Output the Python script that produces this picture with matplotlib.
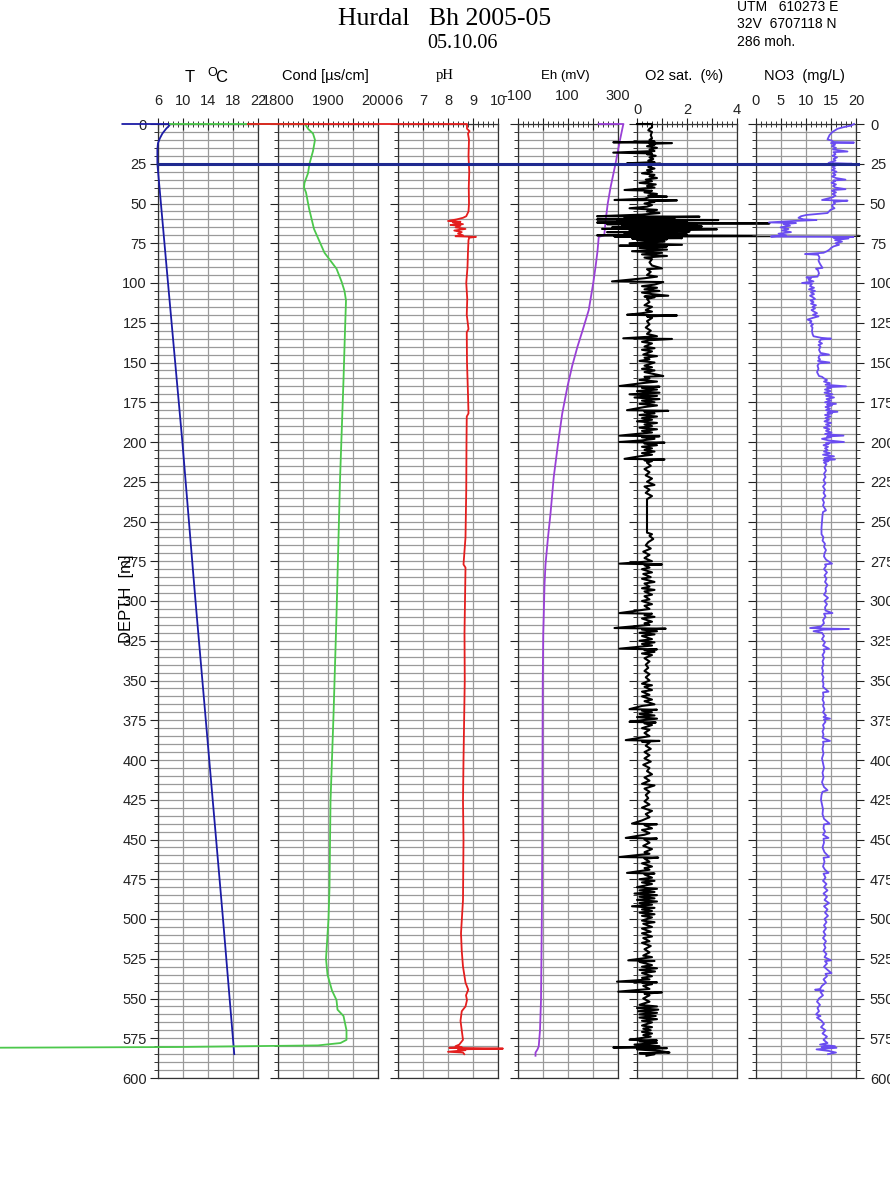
import matplotlib
matplotlib.use('Agg')
import matplotlib.pyplot as plt
import matplotlib.ticker as mticker
import matplotlib.transforms as mtransforms
from matplotlib.lines import Line2D

plt.rcParams['font.family'] = ['Liberation Sans', 'DejaVu Sans']

# ==================== data (depth m, value) ====================
water_level = 25

temp_profile = [(0, 0.3), (0, 7.9), (1, 7.8), (3, 7.3), (6, 6.7), (9, 6.3), (12, 6.0),
                (16, 5.9), (25, 5.9), (100, 7.6), (200, 9.9), (300, 12.0), (400, 14.2),
                (500, 16.4), (585, 18.2)]

cond_profile = [(0, 1584), (0, 1854), (3, 1860), (6, 1870), (10, 1874), (17, 1870), (25, 1863),
                (31, 1860), (37, 1853), (40, 1852), (43, 1856), (53, 1862), (66, 1872),
                (81, 1893), (91, 1917), (99, 1927), (105, 1933), (111, 1936), (130, 1934),
                (161, 1931), (224, 1924), (309, 1917), (372, 1911), (426, 1905), (480, 1903),
                (500, 1901), (515, 1898), (525, 1896), (535, 1899), (545, 1908), (551, 1917),
                (557, 1919), (561, 1931), (570, 1937), (576, 1937), (578, 1925), (579.5, 1880),
                (580.5, 1600), (581, 1200)]

ph_profile = [(0, 0.0), (0, 8.76), (3, 8.76), (4.5, 8.86), (6, 8.8), (10, 8.84), (20, 8.82),
              (30, 8.85), (40, 8.83), (50, 8.84), (55, 8.82), (58, 8.73), (59, 8.6), (60, 8.35),
              (61, 8.0), (61.5, 8.5), (62, 8.2), (63, 8.6), (63.5, 8.1), (64, 8.5), (65, 8.3),
              (66, 8.7), (67, 8.25), (68, 8.55), (69, 8.4), (70, 8.6), (70.6, 8.3), (71, 9.12),
              (71.5, 8.85), (73, 8.82), (80, 8.8), (90, 8.78), (100, 8.73), (110, 8.77),
              (120, 8.75), (129, 8.82), (131, 8.75), (150, 8.76), (160, 8.78), (170, 8.8),
              (182, 8.82), (184, 8.75), (200, 8.74), (230, 8.73), (260, 8.7), (277, 8.62),
              (279, 8.7), (300, 8.68), (320, 8.66), (350, 8.67), (380, 8.64), (400, 8.62),
              (426, 8.6), (450, 8.62), (488, 8.6), (509, 8.52), (520, 8.55), (530, 8.6),
              (540, 8.7), (544.5, 8.81), (548, 8.72), (551, 8.76), (555, 8.7), (558, 8.55),
              (564, 8.5), (570, 8.55), (576, 8.6), (579, 8.45), (580, 8.3), (580.5, 8.55),
              (581, 8.05), (581.5, 10.2), (582, 8.4), (582.5, 8.7), (583.5, 8.0), (584, 8.6),
              (585, 8.65)]

eh_profile = [(0, 224), (0, 324), (1, 322), (10, 310), (25, 292), (40, 272), (50, 261),
              (60, 253), (70, 247), (71, 225), (80, 220), (90, 212), (100, 203), (117, 185),
              (130, 160), (140, 140), (152, 119), (165, 100), (182, 79), (200, 63), (222, 45),
              (245, 32), (260, 22), (277, 12), (290, 8), (309, 5), (320, 3), (350, 1),
              (400, 0), (450, -1), (488, -2), (520, -4), (551, -6), (570, -10), (580, -15),
              (582, -20), (584, -28), (586, -28)]

o2_profile = [
    (0, 0.0), (0, 0.6), (2, 0.6), (3, 0.5), (4, 0.45), (5, 0.6), (7, 0.55), (9, 0.6),
    (10, 0.5), (11, 0.7), (11.5, -0.95), (12, 1.4), (12.5, 0.5), (13, 0.7), (14, 0.4),
    (15, 0.8), (16, 0.5), (17, 0.7), (18, -0.95), (18.5, 0.6), (19, 0.4), (20, 0.75),
    (21, 0.5), (22, 0.65), (23, 0.45), (24, 0.7), (24.7, -0.4), (25, 0.95), (25.5, 0.3),
    (26, 0.6), (27, 0.45), (28, 0.7), (29, 0.4), (30, 0.6), (31, 0.2), (32, 0.7), (33, 0.5),
    (34, 0.8), (35, 0.35), (36, 0.6), (37, 0.1), (38, 0.75), (39, 0.4), (40, 0.7),
    (41.5, -0.5), (42, 0.6), (43, 0.3), (44, 0.8), (45, 0.45), (45.7, 1.2), (46, 0.5),
    (47, 0.3), (47.8, -0.9), (48, 1.6), (48.5, 0.5), (49, 0.7), (50, 0.3), (51, 0.6),
    (52, 0.4), (53, -0.3), (54, 0.8), (55, 0.4), (56, 0.9), (57, 0.2), (58, -1.6),
    (58.3, 2.5), (59, -0.5), (59.5, 1.5), (60, -1.6), (60.4, 3.25), (61, -0.8), (61.5, 2.0),
    (62, -1.6), (62.5, 5.3), (63, -1.2), (63.5, 2.4), (64, -0.6), (64.5, 2.6), (65, -1.0),
    (65.5, 1.9), (66, -1.4), (66.2, 3.2), (67, -0.3), (67.6, 2.1), (68, -1.2), (68.5, 1.6),
    (69, -0.5), (69.5, 2.0), (70, -1.6), (70.4, 8.9), (70.8, -0.9), (71.3, 1.5), (71.8, 1.8),
    (72, -0.2), (72.5, 1.2), (73, 0.0), (74, 1.1), (75, -0.3), (76, 1.8), (76.5, -0.7),
    (77, 1.2), (78, 0.1), (79, 1.2), (80, -0.2), (81, 1.0), (82, 0.2), (83, 1.2), (84, 0.3),
    (85, 0.6), (87, 0.5), (89, 0.6), (90.8, 1.0), (91.3, 0.4), (93, 0.55), (95, 0.4),
    (96, 0.8), (97, 0.3), (99, -1.0), (99.4, 1.05), (101, 0.7), (102, 0.2), (103, 0.8),
    (104, 0.3), (105, 0.9), (106, 0.2), (107, 0.6), (108, 1.25), (108.5, 0.3), (109, 0.7),
    (110, 0.4), (112, 0.5), (114, 0.3), (115, 0.6), (117, 0.35), (118, 0.6), (119, 0.2),
    (120, -0.4), (120.4, 1.6), (121, 0.4), (122, 0.6), (124, 0.4), (126, 0.5), (128, 0.35),
    (130, 0.55), (132, 0.4), (133.5, 0.8), (134.8, -0.55), (135.2, 1.4), (136, 0.5),
    (137, 0.2), (138, 0.6), (140, 0.3), (141, 0.7), (142, 0.2), (143, 0.6), (145, 0.25),
    (146, 0.8), (147, 0.3), (148, 0.5), (149, 0.1), (150, 0.7), (152, 0.3), (153, 0.6),
    (154, 0.2), (155, 0.7), (156, 0.3), (157, 0.6), (158.5, 1.05), (159, 0.3), (160, 0.5),
    (161, 0.1), (162, 0.8), (163, 0.2), (164.8, -0.7), (165.2, 0.9), (166, 0.2), (167, 0.8),
    (168, 0.0), (169, 0.9), (170, -0.3), (171, 0.8), (172, -0.1), (173, 0.9), (174, 0.2),
    (175, 0.7), (176, 0.1), (177, 0.8), (178, 0.3), (180, -0.4), (180.4, 1.25), (181, 0.3),
    (182, 0.7), (183, 0.1), (184, 0.8), (185, 0.2), (186, 0.6), (187, 0.0), (188, 0.8),
    (189, 0.3), (190, 0.6), (191, 0.1), (192, 0.8), (193, 0.2), (194, 0.6), (196, -0.7),
    (196.4, 0.9), (197, 0.2), (198, 0.7), (199, 0.2), (200, -0.7), (200.4, 1.1), (201, 0.3),
    (202, 0.8), (203, 0.2), (204, 0.6), (205, 0.3), (206, 0.7), (207, 0.2), (208, 0.6),
    (209, 0.1), (210.6, -0.5), (211, 1.1), (211.5, 0.3), (212, 0.6), (213, 0.4), (215, 0.55),
    (217, 0.3), (219, 0.5), (221, 0.35), (223, 0.6), (225, 0.4), (227, 0.7), (228, 0.3),
    (230, 0.5), (232, 0.35), (234, 0.6), (236, 0.4), (257, 0.4), (258, 0.6), (259, 0.5),
    (261, 0.65), (263, 0.45), (265, 0.35), (267, 0.55), (269, 0.25), (271, 0.5), (273, 0.3),
    (275, 0.6), (276.5, -0.7), (277, 1.0), (277.5, 0.3), (279, 0.5), (280, 0.2), (282, 0.6),
    (283, 0.25), (285, 0.55), (286, 0.2), (288, 0.7), (289, 0.3), (291, 0.5), (292, 0.2),
    (293, 0.7), (294, 0.3), (296, 0.6), (297, 0.3), (299, 0.5), (300, 0.2), (302, 0.6),
    (303, 0.3), (305, 0.5), (307.6, -0.7), (308, 0.6), (309, 0.3), (310, 0.7), (311, 0.2),
    (313, 0.6), (314, 0.3), (315, 0.5), (317, -0.9), (317.4, 1.15), (318, 0.2), (319, 0.8),
    (320, 0.1), (321, 0.7), (322, 0.2), (324, 0.6), (325, 0.1), (326, 0.7), (327, 0.2),
    (328, 0.6), (330, -0.7), (330.4, 0.8), (331, 0.3), (332, 0.7), (333, 0.2), (334, 0.6),
    (336, 0.3), (338, 0.5), (340, 0.35), (342, 0.45), (344, 0.3), (346, 0.5), (348, 0.35),
    (350, 0.5), (352, 0.2), (353, 0.6), (354, 0.3), (356, 0.6), (357, 0.2), (359, 0.5),
    (360, 0.2), (362, 0.6), (363, 0.3), (365, 0.7), (366, 0.2), (368, -0.3), (368.4, 0.8),
    (369, 0.2), (370, 0.6), (371, 0.1), (372, 0.7), (373, 0.0), (374, 0.8), (375, 0.2),
    (376, -0.3), (376.4, 0.75), (377, 0.3), (378, 0.6), (380, 0.2), (381, 0.5), (383, 0.3),
    (385, 0.5), (387.5, -0.45), (388, 0.9), (388.5, 0.2), (389, 0.5), (391, 0.35),
    (393, 0.55), (395, 0.3), (397, 0.5), (399, 0.3), (401, 0.55), (403, 0.25), (405, 0.5),
    (407, 0.4), (409, 0.6), (411, 0.3), (413, 0.5), (415, 0.2), (416, 0.7), (418, 0.3),
    (420, 0.5), (422, 0.35), (424, 0.45), (426, 0.3), (428, 0.5), (430, 0.2), (432, 0.6),
    (434, 0.35), (436, 0.5), (438, 0.2), (440, -0.2), (440.4, 0.8), (441, 0.3), (443, 0.6),
    (444, 0.2), (446, 0.5), (447, 0.3), (449, -0.45), (449.4, 0.8), (450, 0.3), (452, 0.5),
    (454, 0.25), (456, 0.6), (458, 0.3), (459, 0.5), (461, -0.7), (461.4, 0.85), (462, 0.3),
    (464, 0.5), (465, 0.2), (467, 0.6), (468, 0.3), (469, 0.5), (471, -0.4), (471.4, 0.7),
    (472, 0.3), (474, 0.6), (475, 0.1), (476, 0.7), (477, 0.2), (478, 0.6), (480, 0.0),
    (481, 0.8), (482, 0.1), (483, 0.7), (484, -0.1), (485, 0.8), (486, 0.1), (487, 0.7),
    (488, 0.0), (489, 0.8), (490, 0.1), (491, 0.6), (492, -0.2), (493, 0.7), (494, 0.2),
    (495, 0.6), (496, 0.1), (497, 0.7), (498, 0.2), (499, 0.6), (501, 0.2), (502, 0.7),
    (503, 0.25), (505, 0.6), (506, 0.2), (508, 0.55), (509, 0.2), (511, 0.6), (512, 0.25),
    (514, 0.5), (515, 0.2), (517, 0.55), (519, 0.3), (521, 0.5), (523, 0.25), (524, 0.6),
    (526, -0.35), (526.4, 0.7), (527, 0.1), (529, 0.6), (530, 0.2), (531, 0.8), (532, 0.1),
    (533, 0.72), (534, 0.2), (536, 0.6), (537, 0.2), (538, 0.5), (539.4, -0.8), (539.8, 0.8),
    (540, 0.2), (541, 0.6), (542, 0.25), (544, 0.5), (545.7, -0.75), (546.1, 1.0), (547, 0.3),
    (548, 0.5), (550, 0.25), (552, 0.5), (554, 0.1), (555, 0.8), (556, 0.0), (557, 0.85),
    (558, 0.05), (559, 0.8), (560, 0.1), (561, 0.75), (562, 0.1), (563, 0.8), (564, 0.2),
    (565, 0.6), (567, 0.2), (568, 0.6), (569, 0.25), (570, 0.55), (571, 0.2), (572, 0.6),
    (573, 0.25), (574, 0.55), (576, -0.3), (576.4, 0.8), (577, 0.1), (578, 0.8), (579, -0.1),
    (580, 0.9), (580.8, -0.95), (581.2, 1.2), (582, 0.0), (583, 0.9), (584, 1.3),
    (584.5, 0.1), (585, 0.7), (586, 0.38)]

no3_profile = [
    (0, 19.6), (1, 19.0), (2, 17.5), (3, 16.3), (5, 15.3), (7, 14.7), (9.7, 14.3),
    (10.5, 15.2), (11.3, 15.5), (11.7, 19.6), (12, 15.0), (13, 15.8), (14, 15.2), (15, 16.0),
    (16, 15.4), (17.3, 18.3), (17.7, 15.5), (19, 15.9), (20, 15.3), (21, 16.2), (22, 15.5),
    (23, 15.9), (24.5, 14.5), (25, 19.2), (25.5, 15.0), (26, 16.0), (27, 15.3), (28, 15.8),
    (29, 15.2), (30, 16.1), (31, 15.4), (32, 15.9), (33, 15.2), (34, 16.0), (35, 17.9),
    (35.5, 15.5), (36, 15.8), (37, 15.1), (38, 16.0), (39, 15.4), (40, 15.9), (41, 17.9),
    (41.5, 15.5), (42, 15.2), (43, 16.0), (44, 15.3), (45, 15.9), (46, 15.4), (47.8, 13.2),
    (48.2, 18.3), (49, 15.5), (50, 15.8), (51, 15.2), (52, 15.3), (53, 15.7), (54, 14.9),
    (55, 14.6), (56, 14.3), (57.2, 10.1), (58, 9.0), (59, 8.5), (60, 9.5), (60.4, 12.1),
    (61, 7.5), (61.9, 2.6), (62.3, 8.0), (63, 5.5), (64, 6.8), (65, 4.9), (66, 6.5),
    (67, 5.2), (68, 7.0), (69, 4.5), (70, 6.0), (70.8, 3.0), (71.0, 19.5), (71.5, 15.5),
    (72, 18.5), (73, 15.8), (74, 17.2), (75, 15.9), (76, 16.6), (77, 15.5), (78, 15.0),
    (79, 14.7), (80, 14.2), (81, 13.5), (81.8, 9.8), (82.2, 12.4), (84, 12.7), (86, 12.5),
    (88, 12.8), (90.5, 13.3), (91, 12.0), (92, 12.4), (94, 12.6), (96, 12.3), (96.5, 10.1),
    (97, 11.0), (98, 10.5), (99, 11.5), (100, 9.2), (100.5, 11.2), (102, 10.8), (103, 11.6),
    (104, 10.6), (105, 11.8), (106, 11.0), (107, 11.6), (108, 10.8), (109, 11.4), (110, 11.8),
    (111, 10.9), (112, 11.5), (113, 11.0), (114, 12.0), (115, 11.3), (116, 11.8), (117, 11.1),
    (118, 11.6), (119, 12.2), (120, 11.4), (121, 12.5), (122, 11.3), (123, 10.3), (124, 11.1),
    (125, 10.8), (126, 11.4), (127, 11.0), (128, 11.3), (130, 11.2), (132, 11.3),
    (133.5, 11.5), (134.5, 13.1), (135, 15.0), (135.5, 13.0), (137, 12.6), (138, 13.2),
    (139, 12.5), (140, 12.9), (142, 12.6), (144, 12.9), (145, 14.6), (145.5, 12.7),
    (147, 12.5), (148, 12.8), (149, 12.4), (150, 14.7), (150.5, 12.6), (152, 12.3),
    (154, 12.5), (156, 12.2), (158.5, 12.6), (159, 13.2), (160, 13.6), (161, 14.2),
    (162, 13.6), (163, 14.8), (164, 13.9), (165, 18.0), (165.5, 14.2), (166, 15.0),
    (167, 13.8), (168, 14.9), (169, 13.7), (170, 15.3), (171, 14.0), (172, 15.6), (173, 14.1),
    (174, 15.0), (175, 13.8), (176, 16.0), (176.5, 14.2), (177, 15.2), (178, 13.9),
    (179, 14.8), (180, 14.0), (181, 16.3), (181.5, 14.3), (182, 15.2), (183, 13.8),
    (184, 14.9), (185, 13.9), (186, 14.6), (187, 13.7), (188, 15.0), (189, 14.0), (190, 14.8),
    (191, 13.6), (192, 14.7), (193, 14.0), (194, 15.1), (195, 13.8), (196, 17.5),
    (196.5, 14.2), (197, 15.0), (198, 13.2), (199, 14.5), (200, 17.6), (200.5, 14.0),
    (201, 14.6), (202, 13.5), (203, 14.4), (204, 13.8), (205, 14.3), (206, 13.6), (207, 14.8),
    (208, 13.4), (209, 15.6), (210, 13.7), (211, 15.8), (211.5, 13.5), (212, 14.5),
    (213, 13.6), (214, 14.1), (216, 13.7), (218, 14.0), (220, 13.6), (222, 13.9), (224, 13.5),
    (226, 13.9), (228, 13.4), (230, 13.8), (232, 13.5), (234, 13.9), (236, 13.3), (238, 13.6),
    (240, 13.4), (243, 14.0), (244, 13.4), (246, 13.3), (250, 13.2), (254, 13.1), (258, 13.1),
    (260, 13.5), (262, 13.3), (264, 13.8), (266, 13.6), (268, 14.0), (270, 13.7), (272, 13.6),
    (274, 14.0), (276.5, 15.2), (277, 13.8), (278, 14.0), (280, 13.6), (282, 14.2),
    (284, 13.7), (286, 14.1), (288, 13.8), (290, 14.3), (292, 13.9), (294, 14.0), (296, 13.6),
    (298, 14.4), (300, 13.7), (302, 14.2), (304, 13.8), (306, 13.9), (307.6, 15.3),
    (308, 13.6), (310, 13.9), (312, 13.4), (314, 13.6), (316, 13.0), (317, 10.8),
    (317.3, 13.5), (317.6, 18.6), (318, 13.6), (319, 11.5), (320, 13.2), (322, 13.6),
    (324, 13.2), (326, 13.8), (328, 13.4), (330, 14.6), (330.5, 13.5), (332, 13.7),
    (334, 13.3), (336, 13.6), (338, 13.3), (340, 13.5), (342, 13.2), (344, 13.4), (346, 13.2),
    (348, 13.5), (350, 13.3), (352, 13.5), (354, 13.4), (357, 14.5), (357.5, 13.4),
    (360, 13.5), (362, 13.3), (364, 13.6), (366, 13.4), (368, 13.7), (370, 13.4), (372, 14.0),
    (373, 13.5), (374, 14.8), (374.5, 13.6), (376, 13.9), (378, 13.4), (380, 13.6),
    (382, 13.3), (384, 13.5), (386, 13.3), (388, 14.8), (388.5, 13.4), (390, 13.5),
    (393, 13.3), (396, 13.5), (399, 13.2), (402, 13.4), (405, 13.6), (408, 13.3), (411, 13.5),
    (414, 13.2), (417, 13.6), (419, 14.3), (420, 13.3), (422, 13.1), (425, 13.0), (428, 13.2),
    (431, 13.4), (434, 13.3), (437, 13.6), (440, 14.7), (440.5, 13.6), (443, 13.5),
    (445, 13.8), (447, 13.4), (449, 14.5), (449.5, 13.5), (452, 13.6), (455, 13.3),
    (458, 13.7), (461, 14.6), (461.5, 13.5), (464, 13.7), (467, 13.4), (469, 13.8),
    (471, 14.5), (471.5, 13.5), (474, 13.9), (476, 13.4), (478, 14.1), (480, 13.6),
    (482, 14.3), (484, 13.5), (486, 14.2), (488, 13.7), (490, 14.6), (492, 13.6), (494, 14.3),
    (496, 13.8), (498, 14.4), (500, 13.7), (502, 14.1), (504, 13.6), (506, 14.0), (508, 13.5),
    (510, 13.9), (512, 13.4), (514, 14.0), (516, 13.6), (518, 13.9), (520, 13.5), (522, 14.1),
    (524, 13.7), (526, 15.0), (526.5, 13.8), (528, 14.2), (530, 13.6), (532, 14.3),
    (534, 15.1), (534.5, 13.9), (536, 14.2), (538, 13.5), (540, 14.0), (542, 13.2),
    (544, 12.8), (544.5, 11.8), (545, 13.5), (546, 12.9), (548, 13.4), (550, 12.6),
    (552, 12.2), (554, 12.8), (556, 12.3), (558, 12.6), (560, 12.0), (561, 12.9), (562, 12.2),
    (564, 13.1), (566, 13.6), (568, 13.0), (570, 13.9), (572, 13.3), (574, 14.2), (576, 13.5),
    (578, 14.3), (579, 12.8), (580, 15.8), (580.5, 13.1), (581, 16.1), (582, 12.1),
    (583, 14.6), (584, 16.0), (585, 14.4)]

# x-axis ticks / labels per panel
t_ticks, t_labels = [6, 10, 14, 18, 22], ['6', '10', '14', '18', '22']
cond_ticks, cond_labels = [1800, 1850, 1900, 1950, 2000], ['1800', '', '1900', '', '2000']
ph_ticks, ph_labels = [6, 7, 8, 9, 10], ['6', '7', '8', '9', '10']
eh_ticks, eh_labels = [-100, 0, 100, 200, 300], ['-100', '', '100', '', '300']
o2_ticks, o2_labels = [0, 1, 2, 3, 4], ['0', '', '2', '', '4']
no3_ticks, no3_labels = [0, 5, 10, 15, 20], ['0', '5', '10', '15', '20']

# ==================== layout ====================
W, H = 890, 1191
TOP, BOT = 124, 1078   # pixel rows of 0 m and 600 m


def fx(x):
    return x / W


def fy(y):
    return 1 - y / H


panels = [
    dict(data=temp_profile, color='#1c1ca6', left=158, ticks=t_ticks, labels=t_labels, pad=7.5),
    dict(data=cond_profile, color='#4cc84c', left=278, ticks=cond_ticks, labels=cond_labels, pad=7.5),
    dict(data=ph_profile, color='#e41e1e', left=398, ticks=ph_ticks, labels=ph_labels, pad=7.5),
    dict(data=eh_profile, color='#9a40d6', left=517.5, ticks=eh_ticks, labels=eh_labels, pad=11),
    dict(data=o2_profile, color='black', left=637, ticks=o2_ticks, labels=o2_labels, pad=1),
    dict(data=no3_profile, color='#6a4cf0', left=756, ticks=no3_ticks, labels=no3_labels, pad=7.5),
]

fig = plt.figure(figsize=(W / 100, H / 100), dpi=100)
grid_c = '#9a9a9a'
axes = []
for i, p in enumerate(panels):
    ax = fig.add_axes([fx(p['left']), fy(BOT), 100 / W, (BOT - TOP) / H])
    ax.set_facecolor('none')
    ax.set_xlim(p['ticks'][0], p['ticks'][-1])
    ax.set_ylim(600, 0)
    ax.xaxis.tick_top()
    ax.set_xticks(p['ticks'])
    ax.set_xticklabels(p['labels'])
    ax.xaxis.set_minor_locator(mticker.AutoMinorLocator(5))
    ax.yaxis.set_major_locator(mticker.MultipleLocator(25))
    ax.yaxis.set_minor_locator(mticker.MultipleLocator(5))
    ax.grid(True, which='major', axis='x', color=grid_c, lw=0.9)
    ax.grid(True, which='both', axis='y', color=grid_c, lw=0.9)
    for s in ax.spines.values():
        s.set_color('#333333')
        s.set_linewidth(0.9)
    ax.tick_params(axis='x', which='major', direction='inout', length=8, width=0.8,
                   pad=p['pad'], labelsize=10.5, colors='#222222')
    ax.tick_params(axis='x', which='minor', direction='inout', length=4, width=0.7,
                   colors='#333333')
    ax.tick_params(axis='y', which='major', direction='out', length=6, width=0.8,
                   labelsize=10.5, pad=2, colors='#222222')
    ax.tick_params(axis='y', which='minor', direction='out', length=3, width=0.7,
                   colors='#333333')
    if i == 0:
        ax.tick_params(axis='y', which='both', left=True, right=False, labelleft=True)
    elif i == len(panels) - 1:
        ax.tick_params(axis='y', which='both', left=True, right=True,
                       labelleft=False, labelright=True)
        ax.tick_params(axis='y', which='major', pad=4)
    else:
        ax.tick_params(axis='y', which='both', left=True, right=False, labelleft=False)

    depth = [d for d, v in p['data']]
    vals = [v for d, v in p['data']]
    lw = 1.5 if p['color'] == 'black' else 1.3
    ax.plot(vals, depth, color=p['color'], lw=lw, clip_on=False, zorder=5)
    axes.append(ax)

# water level line across all panels
trans = mtransforms.blended_transform_factory(fig.transFigure, axes[0].transData)
x0 = axes[0].get_position().x0
x1 = axes[-1].get_position().x1
fig.add_artist(Line2D([x0, x1 + 1.5 / W], [water_level, water_level], transform=trans,
                      color='#1f2a8f', lw=2.2, zorder=10))

# ==================== texts ====================
fig.text(fx(445), fy(19), 'Hurdal   Bh 2005-05', family='Liberation Serif',
         fontsize=18.5, ha='center', va='center')
fig.text(fx(462), fy(44), '05.10.06', family='Liberation Serif',
         fontsize=14.5, ha='center', va='center')
fig.text(fx(737), fy(0), 'UTM   610273 E\n32V  6707118 N\n286 moh.',
         fontsize=10, ha='left', va='top', linespacing=1.3)

fig.text(fx(190), fy(77), 'T', fontsize=12, ha='center', va='center')
fig.text(fx(212), fy(73), 'O', fontsize=9, ha='center', va='center')
fig.text(fx(221), fy(78), 'C', fontsize=12, ha='center', va='center')
fig.text(fx(325), fy(76), 'Cond [\u00b5s/cm]', fontsize=10.5, ha='center', va='center')
fig.text(fx(445), fy(75), 'pH', family='Liberation Serif', fontsize=10.5,
         ha='center', va='center')
fig.text(fx(565), fy(76), 'Eh (mV)', fontsize=9.5, ha='center', va='center')
fig.text(fx(684), fy(76), 'O2 sat.  (%)', fontsize=10.5, ha='center', va='center')
fig.text(fx(804), fy(76), 'NO3  (mg/L)', fontsize=10.5, ha='center', va='center')

fig.text(fx(126), fy(599), 'DEPTH  [m]', fontsize=12, rotation=90,
         ha='center', va='center')

fig.savefig('out.png', dpi=100)
